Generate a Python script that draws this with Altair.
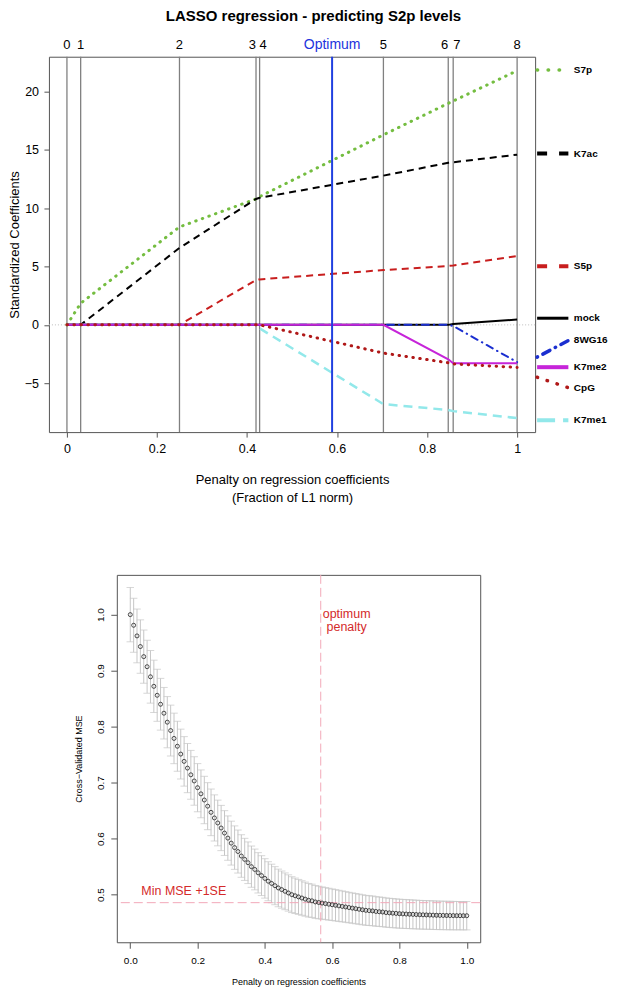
import altair as alt
import pandas as pd

FONT = "Liberation Sans"

# ---------------- top panel: LASSO coefficient paths ----------------
step_x = [0.0, 0.0305, 0.25, 0.42, 0.428, 0.703, 0.847, 0.858, 1.0]
step_labels = ["0", "1", "2", "3", "4", "5", "6", "7", "8"]
optimum_fraction = 0.589

series = ["S7p", "K7ac", "S5p", "K7me1", "mock", "8WG16", "K7me2", "CpG"]
coef_S7p = [0.0, 1.85, 8.4, 10.8, 11.0, 16.3, 19.0, 19.2, 21.8]
coef_K7ac = [0.0, 0.0, 6.6, 10.8, 10.9, 12.8, 13.9, 13.95, 14.6]
coef_S5p = [0.0, 0.0, 0.0, 3.85, 3.9, 4.7, 5.05, 5.1, 5.9]
coef_K7me1 = [0.0, 0.0, 0.0, 0.0, -0.3, -6.8, -7.3, -7.4, -8.0]
coef_mock = [0.0, 0.0, 0.0, 0.0, 0.0, 0.0, 0.0, 0.08, 0.45]
coef_8WG16 = [0.0, 0.0, 0.0, 0.0, 0.0, 0.0, 0.0, -0.1, -3.2]
coef_K7me2 = [0.0, 0.0, 0.0, 0.0, 0.0, 0.0, -2.95, -3.29, -3.29]
coef_CpG = [0.0, 0.0, 0.0, 0.0, 0.0, -2.42, -3.25, -3.35, -3.65]
coefs = [coef_S7p, coef_K7ac, coef_S5p, coef_K7me1, coef_mock, coef_8WG16, coef_K7me2, coef_CpG]

# right-hand key (coefficient units), same order as `series`
key_label_y = [21.86, 14.69, 5.03, -8.19, 0.57, -1.3, -3.63, -5.41]
key_line_y0 = [21.86, 14.69, 5.03, -8.19, 0.57, -2.77, -3.63, -4.49]
key_line_y1 = [21.86, 14.69, 5.03, -8.19, 0.57, -1.34, -3.63, -5.39]

# ---------------- bottom panel: cross-validation ----------------
cv_x = [i / 100 for i in range(101)]
cv_mse = [1.000, 0.981, 0.962, 0.943, 0.925, 0.907, 0.889, 0.872, 0.856, 0.840,
          0.824, 0.808, 0.793, 0.779, 0.765, 0.751, 0.738, 0.726, 0.714, 0.703,
          0.691, 0.680, 0.669, 0.658, 0.647, 0.637, 0.628, 0.619, 0.610, 0.601,
          0.592, 0.584, 0.577, 0.569, 0.563, 0.557, 0.550, 0.545, 0.539, 0.534,
          0.529, 0.524, 0.520, 0.516, 0.512, 0.509, 0.506, 0.503, 0.500, 0.498,
          0.496, 0.494, 0.492, 0.490, 0.489, 0.487, 0.486, 0.485, 0.484, 0.483,
          0.482, 0.481, 0.480, 0.479, 0.478, 0.477, 0.476, 0.475, 0.474, 0.473,
          0.472, 0.4715, 0.471, 0.470, 0.4695, 0.469, 0.468, 0.4675, 0.467, 0.4665,
          0.466, 0.4657, 0.4654, 0.4651, 0.4648, 0.4645, 0.4642, 0.464, 0.4638, 0.4636,
          0.4634, 0.4632, 0.463, 0.4629, 0.4628, 0.4627, 0.4626, 0.4625, 0.4625, 0.4624,
          0.4624]
cv_se = [0.0485, 0.0482, 0.048, 0.0477, 0.0475, 0.0472, 0.047, 0.0467, 0.0465, 0.0462,
         0.046, 0.0457, 0.0454, 0.0451, 0.0448, 0.0445, 0.0442, 0.0439, 0.0436, 0.0433,
         0.043, 0.0427, 0.0423, 0.042, 0.0416, 0.0412, 0.0408, 0.0404, 0.04, 0.0396,
         0.0392, 0.0388, 0.0384, 0.038, 0.0376, 0.0372, 0.0368, 0.0364, 0.036, 0.0356,
         0.0352, 0.0348, 0.0344, 0.034, 0.0336, 0.0332, 0.0328, 0.0324, 0.032, 0.0316,
         0.0312, 0.0308, 0.0304, 0.03, 0.0297, 0.0294, 0.0291, 0.0288, 0.0286, 0.0284,
         0.0282, 0.028, 0.0278, 0.0276, 0.0274, 0.0272, 0.0271, 0.027, 0.0269, 0.0268,
         0.0267, 0.0266, 0.0265, 0.0264, 0.0263, 0.0262, 0.0261, 0.026, 0.026, 0.0259,
         0.0259, 0.0258, 0.0258, 0.0257, 0.0257, 0.0256, 0.0256, 0.0256, 0.0255, 0.0255,
         0.0255, 0.0255, 0.0254, 0.0254, 0.0254, 0.0254, 0.0254, 0.0253, 0.0253, 0.0253,
         0.0253]
optimum_penalty = 0.566
min_mse_1se = 0.4857

# ---------------- styles ----------------
path_style = {
    "S7p": dict(color="#74bd40", strokeDash=[0.5, 6.5], strokeWidth=3, strokeCap="round"),
    "K7ac": dict(color="#000000", strokeDash=[7, 5], strokeWidth=2),
    "S5p": dict(color="#c81e1e", strokeDash=[7, 5], strokeWidth=2),
    "K7me1": dict(color="#92e8ea", strokeDash=[9, 6], strokeWidth=2.5),
    "mock": dict(color="#000000", strokeWidth=2),
    "8WG16": dict(color="#1b2fd0", strokeDash=[0.5, 5, 7, 5], strokeWidth=2, strokeCap="round"),
    "K7me2": dict(color="#c624d9", strokeWidth=2),
    "CpG": dict(color="#b01818", strokeDash=[0.5, 6.5], strokeWidth=3, strokeCap="round"),
}
key_style = {
    "S7p": dict(color="#74bd40", strokeDash=[0.5, 10.5], strokeWidth=3.5, strokeCap="round"),
    "K7ac": dict(color="#000000", strokeDash=[10, 12], strokeWidth=4),
    "S5p": dict(color="#c81e1e", strokeDash=[10, 12], strokeWidth=4),
    "K7me1": dict(color="#92e8ea", strokeDash=[18, 8], strokeWidth=4),
    "mock": dict(color="#000000", strokeWidth=3),
    "8WG16": dict(color="#1b2fd0", strokeDash=[0.5, 6, 8, 6], strokeWidth=3.5, strokeCap="round"),
    "K7me2": dict(color="#c624d9", strokeWidth=4),
    "CpG": dict(color="#b01818", strokeDash=[0.5, 10], strokeWidth=3.5, strokeCap="round"),
}

TW, TH = 487, 376
xs = alt.Scale(domain=[-0.04, 1.04], nice=False, zero=False)
ys = alt.Scale(domain=[-9.2, 23.0], nice=False, zero=False)
xaxis = alt.Axis(values=[0, 0.2, 0.4, 0.6, 0.8, 1], format="~g", domain=False, grid=False,
                 tickSize=5, tickColor="#555555", labelFontSize=12.5, labelColor="#000000",
                 labelPadding=5, labelFont=FONT,
                 title=["Penalty on regression coefficients", "(Fraction of L1 norm)"],
                 titleFontSize=13, titleFontWeight="normal", titleColor="#000000",
                 titlePadding=19, titleLineHeight=18, titleFont=FONT)
yaxis = alt.Axis(values=[-5, 0, 5, 10, 15, 20], domain=False, grid=False,
                 tickSize=5, tickColor="#555555", labelFontSize=12.5, labelColor="#000000",
                 labelPadding=5.4, labelFont=FONT, title="Standardized Coefficients",
                 titleFontSize=13, titleFontWeight="normal", titleColor="#000000",
                 titlePadding=2.4, titleFont=FONT)


def TX(f):
    return alt.X(f"{f}:Q", scale=xs, axis=xaxis)


def TY(f):
    return alt.Y(f"{f}:Q", scale=ys, axis=yaxis)


steps_df = pd.DataFrame({"x": step_x, "label": step_labels})
layers = []
layers.append(alt.Chart(pd.DataFrame({"y": [0.0]})).mark_rule(
    color="#bdbdbd", strokeDash=[1, 2], strokeWidth=1).encode(y=TY("y")))
layers.append(alt.Chart(steps_df).mark_rule(color="#808080", strokeWidth=1.3).encode(x=TX("x")))
for name, vals in zip(series, coefs):
    df = pd.DataFrame({"x": step_x, "y": vals})
    layers.append(alt.Chart(df).mark_line(**path_style[name]).encode(x=TX("x"), y=TY("y")))
opt_df = pd.DataFrame({"x": [optimum_fraction]})
layers.append(alt.Chart(opt_df).mark_rule(color="#2040e0", strokeWidth=2).encode(x=TX("x")))

right_al = {"3", "6"}
left_al = {"4", "7"}
groups = [
    (steps_df[~steps_df.label.isin(right_al | left_al)], "center"),
    (steps_df[steps_df.label.isin(right_al)], "right"),
    (steps_df[steps_df.label.isin(left_al)], "left"),
]
for gdf, al in groups:
    layers.append(alt.Chart(gdf).mark_text(fontSize=13, font=FONT, baseline="middle", align=al,
                                           color="#000000").encode(
        x=TX("x"), y=alt.value(-11.7), text="label:N"))
layers.append(alt.Chart(opt_df).mark_text(fontSize=14, font=FONT, baseline="middle",
                                          color="#2233dd").encode(
    x=TX("x"), y=alt.value(-11.7), text=alt.value("Optimum")))

for i, name in enumerate(series):
    kdf = pd.DataFrame({"y": [key_line_y0[i]], "y2": [key_line_y1[i]]})
    layers.append(alt.Chart(kdf).mark_rule(**key_style[name]).encode(
        x=alt.value(TW + 2), x2=alt.value(TW + 33.3), y=TY("y"), y2=alt.Y2("y2")))
lab_df = pd.DataFrame({"y": key_label_y, "name": series})
layers.append(alt.Chart(lab_df).mark_text(align="left", baseline="middle", fontWeight="bold",
                                          fontSize=10, font=FONT, color="#000000").encode(
    x=alt.value(TW + 38.8), y=TY("y"), text="name:N"))

top = alt.layer(*layers).properties(
    width=TW, height=TH,
    title=alt.TitleParams(text="LASSO regression - predicting S2p levels", fontSize=15,
                          fontWeight="bold", font=FONT, anchor="middle", frame="group",
                          dx=21.5, offset=13.8, color="#000000"))

# ---------------- bottom chart ----------------
BW, BH = 364, 368
bxs = alt.Scale(domain=[-0.04, 1.04], nice=False, zero=False)
bys = alt.Scale(domain=[0.415, 1.071], nice=False, zero=False)
bxaxis = alt.Axis(values=[0, 0.2, 0.4, 0.6, 0.8, 1.0], format=".1f", domain=False, grid=False,
                  tickSize=6, tickColor="#555555", labelFontSize=10, labelColor="#000000",
                  labelPadding=7, labelFont=FONT, title="Penalty on regression coefficients",
                  titleFontSize=9, titleFontWeight="normal", titleColor="#000000",
                  titlePadding=12, titleFont=FONT)
byaxis = alt.Axis(values=[0.5, 0.6, 0.7, 0.8, 0.9, 1.0], format=".1f", domain=False, grid=False,
                  tickSize=6, tickColor="#555555", labelFontSize=10, labelColor="#000000",
                  labelPadding=5, labelAngle=270, labelAlign="center", labelBaseline="bottom",
                  labelFont=FONT, title="Cross−Validated MSE", titleFontSize=9,
                  titleFontWeight="normal", titleColor="#000000", titlePadding=12,
                  titleFont=FONT)


def BX(f):
    return alt.X(f"{f}:Q", scale=bxs, axis=bxaxis)


def BY(f):
    return alt.Y(f"{f}:Q", scale=bys, axis=byaxis)


cv = pd.DataFrame({"x": cv_x, "mse": cv_mse, "se": cv_se})
cv["lo"] = cv["mse"] - cv["se"]
cv["hi"] = cv["mse"] + cv["se"]

bars = alt.Chart(cv).mark_rule(color="#c6c6c6", strokeWidth=1).encode(
    x=BX("x"), y=BY("lo"), y2=alt.Y2("hi"))
cap_lo = alt.Chart(cv).mark_tick(orient="horizontal", size=7.5, thickness=1,
                                 color="#c6c6c6").encode(x=BX("x"), y=BY("lo"))
cap_hi = alt.Chart(cv).mark_tick(orient="horizontal", size=7.5, thickness=1,
                                 color="#c6c6c6").encode(x=BX("x"), y=BY("hi"))
vline = alt.Chart(pd.DataFrame({"x": [optimum_penalty]})).mark_rule(
    color="#f2a9b9", strokeDash=[9, 4], strokeWidth=1).encode(x=BX("x"))
hline = alt.Chart(pd.DataFrame({"mse": [min_mse_1se]})).mark_rule(
    color="#f2a9b9", strokeDash=[9, 4], strokeWidth=1).encode(y=BY("mse"))
pts = alt.Chart(cv).mark_point(shape="circle", filled=False, size=16, strokeWidth=0.8,
                               color="#222222", opacity=1).encode(x=BX("x"), y=BY("mse"))
opt_txt = alt.Chart(pd.DataFrame({"x": [optimum_penalty + 0.077], "mse": [1.001]})).mark_text(
    color="#d42a2a", fontSize=12.5, font=FONT, lineHeight=13.3, baseline="middle").encode(
    x=BX("x"), y=BY("mse"), text=alt.value(["optimum", "penalty"]))
se_txt = alt.Chart(pd.DataFrame({"x": [0.159], "mse": [0.5059]})).mark_text(
    color="#d42a2a", fontSize=12.5, font=FONT, baseline="middle").encode(
    x=BX("x"), y=BY("mse"), text=alt.value("Min MSE +1SE"))

bottom = alt.layer(bars, cap_lo, cap_hi, vline, hline, pts, opt_txt, se_txt).properties(
    width=BW, height=BH)

spacer = alt.Chart(pd.DataFrame({"a": [0]})).mark_point(opacity=0).encode(
    x=alt.value(0), y=alt.value(0)).properties(
    width=24.5, height=10, view=alt.ViewBackground(stroke="transparent"))

chart = alt.vconcat(top, alt.hconcat(spacer, bottom, spacing=0), spacing=66).properties(
    padding=0).configure(font=FONT).configure_view(stroke="#555555", strokeWidth=1)

chart.save("out.html", embed_options={"renderer": "svg", "actions": False})
